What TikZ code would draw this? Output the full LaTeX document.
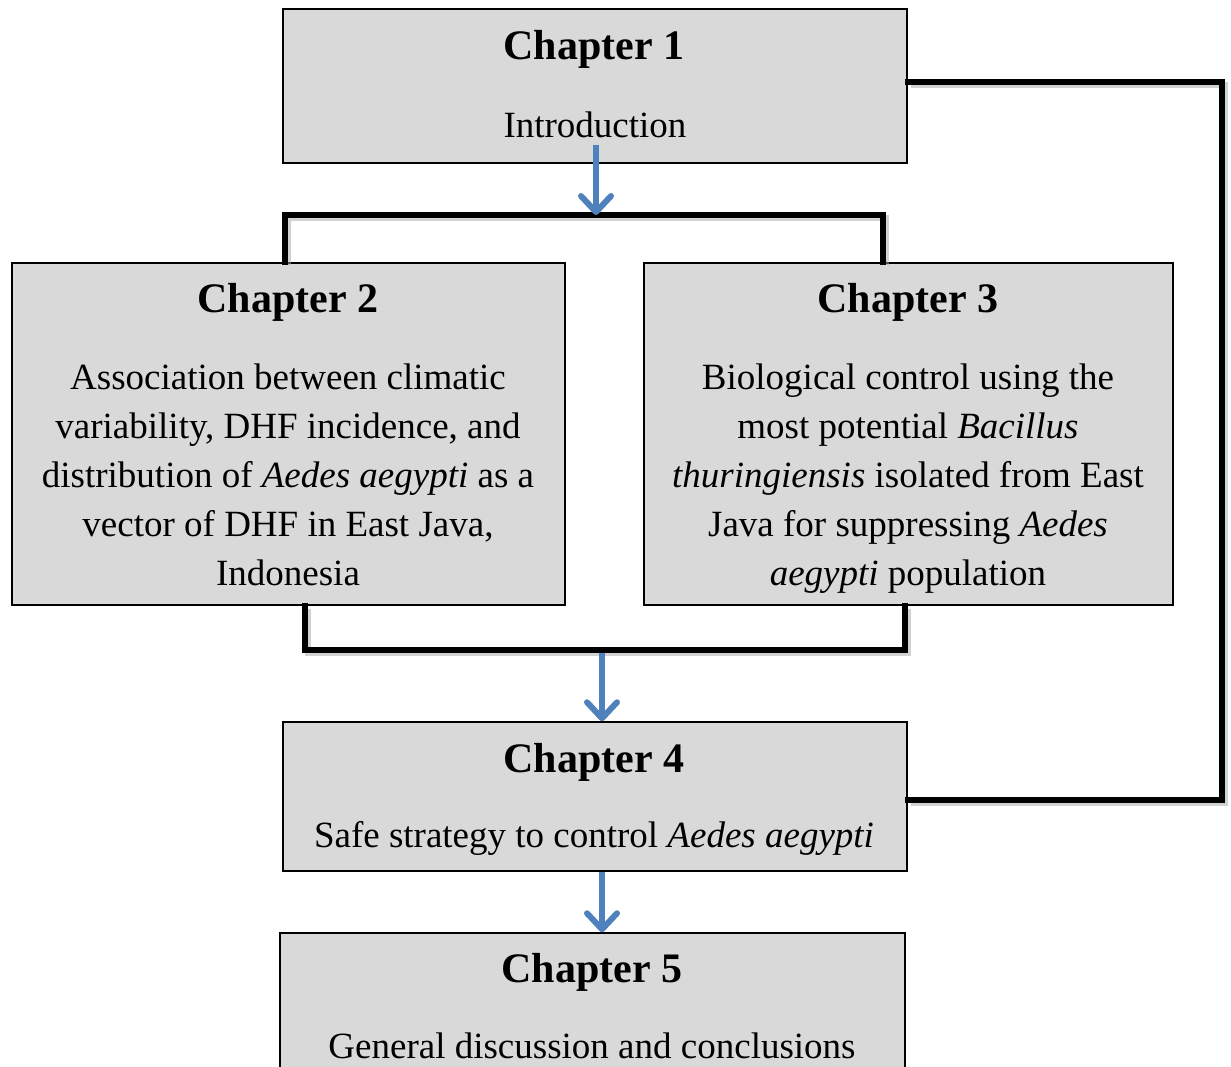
\documentclass[tikz,border=0pt]{standalone}
\usepackage{fontspec}
\setmainfont{Liberation Serif}
\usetikzlibrary{arrows.meta,calc}
\definecolor{boxgray}{HTML}{D9D9D9}
\definecolor{arrblue}{HTML}{4F81BD}
\tikzset{
  chbox/.style={draw=black, line width=0.75pt, fill=boxgray, inner sep=0pt},
  chtitle/.style={font=\fontsize{21}{25}\selectfont\bfseries, anchor=base, inner sep=0pt},
  chtext/.style={font=\fontsize{18.5}{24.5}\selectfont, align=center, inner sep=0pt},
  bracket/.style={draw=black, line width=3pt, line cap=rect},
  shadowline/.style={draw=black!35, line width=3pt, opacity=0.5},
  bluearrow/.style={draw=arrblue, line width=2.7pt, -{Straight Barb[length=8pt,width=15pt,line width=3pt,round]}},
}
\begin{document}
\begin{tikzpicture}[x=0.5pt,y=-0.5pt]
\clip (0,0) rectangle (1231,1066);
\fill[white] (0,0) rectangle (1231,1066);
% boxes
\node[chbox, minimum width=312pt, minimum height=77pt] (c1) at (595,86) {};
\node[chbox, minimum width=276.5pt, minimum height=171pt] (c2) at (288.5,434) {};
\node[chbox, minimum width=264.5pt, minimum height=171pt] (c3) at (908.5,434) {};
\node[chbox, minimum width=312pt, minimum height=74.5pt] (c4) at (595,796.5) {};
\node[chbox, minimum width=312.5pt, minimum height=83pt] (c5) at (592.5,1016) {};
% texts
\node[chtitle] (t1) at (594,59) {Chapter 1};
\node[chtext, anchor=base] (x1) at (595,137) {Introduction};
\node[chtitle] (t2) at (288,312) {Chapter 2};
\node[chtext] (x2) at (288,475) {Association between climatic\\variability, DHF incidence, and\\distribution of \textit{Aedes aegypti} as a\\vector of DHF in East Java,\\Indonesia};
\node[chtitle] (t3) at (908,312) {Chapter 3};
\node[chtext] (x3) at (908,479) {Biological control using the\\most potential \textit{Bacillus}\\\textit{thuringiensis} isolated from East\\Java for suppressing \textit{Aedes}\\\textit{aegypti} population};
\node[chtitle] (t4) at (594,772) {Chapter 4};
\node[chtext, anchor=base] (x4) at (594,847) {Safe strategy to control \textit{Aedes aegypti}};
\node[chtitle] (t5) at (592,982) {Chapter 5};
\node[chtext, anchor=base] (x5) at (592,1058) {General discussion and conclusions};
% bracket coordinates
\coordinate (b1l) at (285,215);
\coordinate (b1r) at (883,215);
\coordinate (b2l) at (305,650);
\coordinate (b2r) at (905,650);
\coordinate (lpt) at (1222,82);
\coordinate (lpb) at (1222,800);
% shadows
\draw[shadowline] ($(c2.north -| b1l)+(3,3)$) |- ($(b1r)+(3,3)$) -- ($(c3.north -| b1r)+(3,3)$);
\draw[shadowline] ($(c2.south -| b2l)+(3,3)$) |- ($(b2r)+(3,3)$) -- ($(c3.south -| b2r)+(3,3)$);
\draw[shadowline] ($(c1.east |- lpt)+(3,3)$) -- ($(lpt)+(3,3)$) -- ($(lpb)+(3,3)$) -- ($(c4.east |- lpb)+(3,3)$);
% brackets
\draw[bracket] (c2.north -| b1l) |- (b1r) -- (c3.north -| b1r);
\draw[bracket] (c2.south -| b2l) |- (b2r) -- (c3.south -| b2r);
\draw[bracket] (c1.east |- lpt) -- (lpt) -- (lpb) -- (c4.east |- lpb);
% blue arrows
\coordinate (a1s) at (596,145);
\coordinate (a2s) at (602,653);
\coordinate (a3s) at (602,872);
\draw[bluearrow] (a1s) -- (a1s |- b1l);
\draw[bluearrow] (a2s) -- (a2s |- c4.north);
\draw[bluearrow] (a3s) -- (a3s |- c5.north);
\end{tikzpicture}
\end{document}
